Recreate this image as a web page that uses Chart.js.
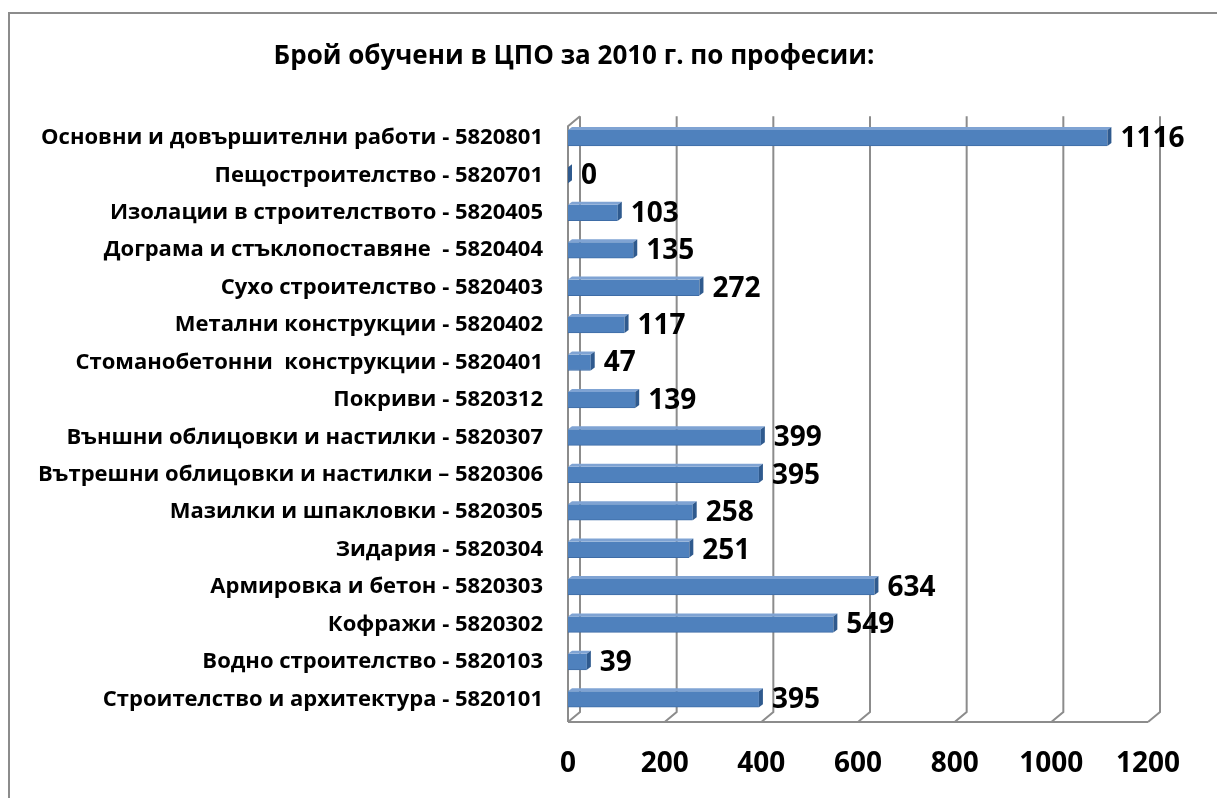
<!DOCTYPE html>
<html>
<head>
<meta charset="utf-8">
<script src="https://cdn.jsdelivr.net/npm/chart.js@4.4.1/dist/chart.umd.min.js"></script>
<style>
    html, body { margin: 0; padding: 0; background: #fff; overflow: hidden; }
    #frame { position: absolute; left: 8px; top: 12px; width: 1260px; height: 840px; border: 2px solid #8c8c8c; }
    #wrap { position: absolute; left: 0; top: 0; width: 1217px; height: 798px; }
</style>
</head>
<body>
<div id="frame"></div>
<div id="wrap"><canvas id="chart" width="1217" height="798"></canvas></div>
<script>
// Categories, top to bottom as in the picture
const PROFESSIONS = [
    "Основни и довършителни работи - 5820801",
    "Пещостроителство - 5820701",
    "Изолации в строителството - 5820405",
    "Дограма и стъклопоставяне  - 5820404",
    "Сухо строителство - 5820403",
    "Метални конструкции - 5820402",
    "Стоманобетонни  конструкции - 5820401",
    "Покриви - 5820312",
    "Външни облицовки и настилки - 5820307",
    "Вътрешни облицовки и настилки – 5820306",
    "Мазилки и шпакловки - 5820305",
    "Зидария - 5820304",
    "Армировка и бетон - 5820303",
    "Кофражи - 5820302",
    "Водно строителство - 5820103",
    "Строителство и архитектура - 5820101",
];
const TRAINED = [1116, 0, 103, 135, 272, 117, 47, 139, 399, 395, 258, 251, 634, 549, 39, 395];
const X_TICKS = [0, 200, 400, 600, 800, 1000, 1200];

const FONT = "'Open Sans', 'DejaVu Sans', sans-serif";
const BAR_COLOR = "#4F81BD";
const BAR_TOP = "#7FA3D3";
const BAR_SIDE = "#2F5A8E";
const GRID_COLOR = "#8c8c8c";
const DEPTH_X = 12, DEPTH_Y = 10;

// 3D-looking walls and gridlines, drawn from the x scale
const wallsPlugin = {
    id: "walls",
    beforeDatasetsDraw(chart) {
        const { ctx, chartArea, scales } = chart;
        const xs = scales.x;
        const frontBottom = chartArea.bottom + 4;
        const backBottom = frontBottom - DEPTH_Y;
        const backTop = chartArea.top - 3;
        ctx.save();
        ctx.strokeStyle = GRID_COLOR;
        ctx.lineWidth = 2;
        X_TICKS.forEach((v) => {
            const px = xs.getPixelForValue(v);
            ctx.beginPath();
            ctx.moveTo(px + DEPTH_X, backTop);
            ctx.lineTo(px + DEPTH_X, backBottom);
            ctx.lineTo(px, frontBottom);
            ctx.stroke();
        });
        const x0 = xs.getPixelForValue(0);
        const xEnd = xs.getPixelForValue(1200);
        ctx.beginPath();
        ctx.moveTo(x0, frontBottom);
        ctx.lineTo(xEnd, frontBottom);
        ctx.stroke();
        // left side wall
        ctx.beginPath();
        ctx.moveTo(x0 + DEPTH_X, backTop);
        ctx.lineTo(x0, backTop + DEPTH_Y);
        ctx.lineTo(x0, frontBottom);
        ctx.stroke();
        ctx.restore();
    },
};

// top face, end cap and value labels of the bars
const barsPlugin = {
    id: "bars3d",
    afterDatasetsDraw(chart) {
        const { ctx } = chart;
        const meta = chart.getDatasetMeta(0);
        ctx.save();
        meta.data.forEach((bar, i) => {
            const { x, y, base, height } = bar.getProps(["x", "y", "base", "height"], true);
            const top = y - height / 2;
            const bottom = y + height / 2;
            const dx = 4, dy = 3;
            ctx.fillStyle = BAR_TOP;
            ctx.beginPath();
            ctx.moveTo(base, top);
            ctx.lineTo(x, top);
            ctx.lineTo(x + dx, top - dy);
            ctx.lineTo(base + dx, top - dy);
            ctx.closePath();
            ctx.fill();
            ctx.fillStyle = BAR_SIDE;
            ctx.beginPath();
            ctx.moveTo(x, top);
            ctx.lineTo(x + dx, top - dy);
            ctx.lineTo(x + dx, bottom - dy);
            ctx.lineTo(x, bottom);
            ctx.closePath();
            ctx.fill();

            ctx.fillStyle = "#000";
            ctx.font = "bold 28px " + FONT;
            ctx.textAlign = "left";
            ctx.textBaseline = "middle";
            ctx.fillText(String(TRAINED[i]), x + 13, y + 1);
        });
        ctx.restore();
    },
};

new Chart(document.getElementById("chart"), {
    type: "bar",
    data: {
        labels: PROFESSIONS,
        datasets: [{
            data: TRAINED,
            backgroundColor: BAR_COLOR,
            borderColor: "#3E6CA6",
            borderWidth: { bottom: 1 },
            borderSkipped: false,
            barThickness: 16,
        }],
    },
    plugins: [wallsPlugin, barsPlugin],
    options: {
        indexAxis: "y",
        responsive: false,
        animation: false,
        layout: { padding: { left: 0, right: 69, top: 0, bottom: 0 } },
        plugins: {
            legend: { display: false },
            tooltip: { enabled: false },
            title: {
                display: true,
                text: "Брой обучени в ЦПО за 2010 г. по професии:",
                color: "#000",
                font: { family: FONT, size: 26, weight: "bold" },
                padding: { top: 41, bottom: 47 },
            },
        },
        scales: {
            x: {
                min: 0,
                max: 1200,
                afterBuildTicks: (s) => { s.ticks = X_TICKS.map((v) => ({ value: v })); },
                afterFit: (s) => { s.height = 80; },
                grid: { display: false, drawTicks: false },
                border: { display: false },
                ticks: {
                    color: "#000",
                    padding: 29,
                    callback: (v) => String(v),
                    font: { family: FONT, size: 28, weight: "bold" },
                },
            },
            y: {
                afterFit: (s) => { s.width = 568; },
                grid: { display: false, drawTicks: false },
                border: { display: false },
                ticks: {
                    color: "#000",
                    padding: 25,
                    autoSkip: false,
                    font: { family: FONT, size: 22, weight: "bold" },
                },
            },
        },
    },
});
</script>
</body>
</html>
